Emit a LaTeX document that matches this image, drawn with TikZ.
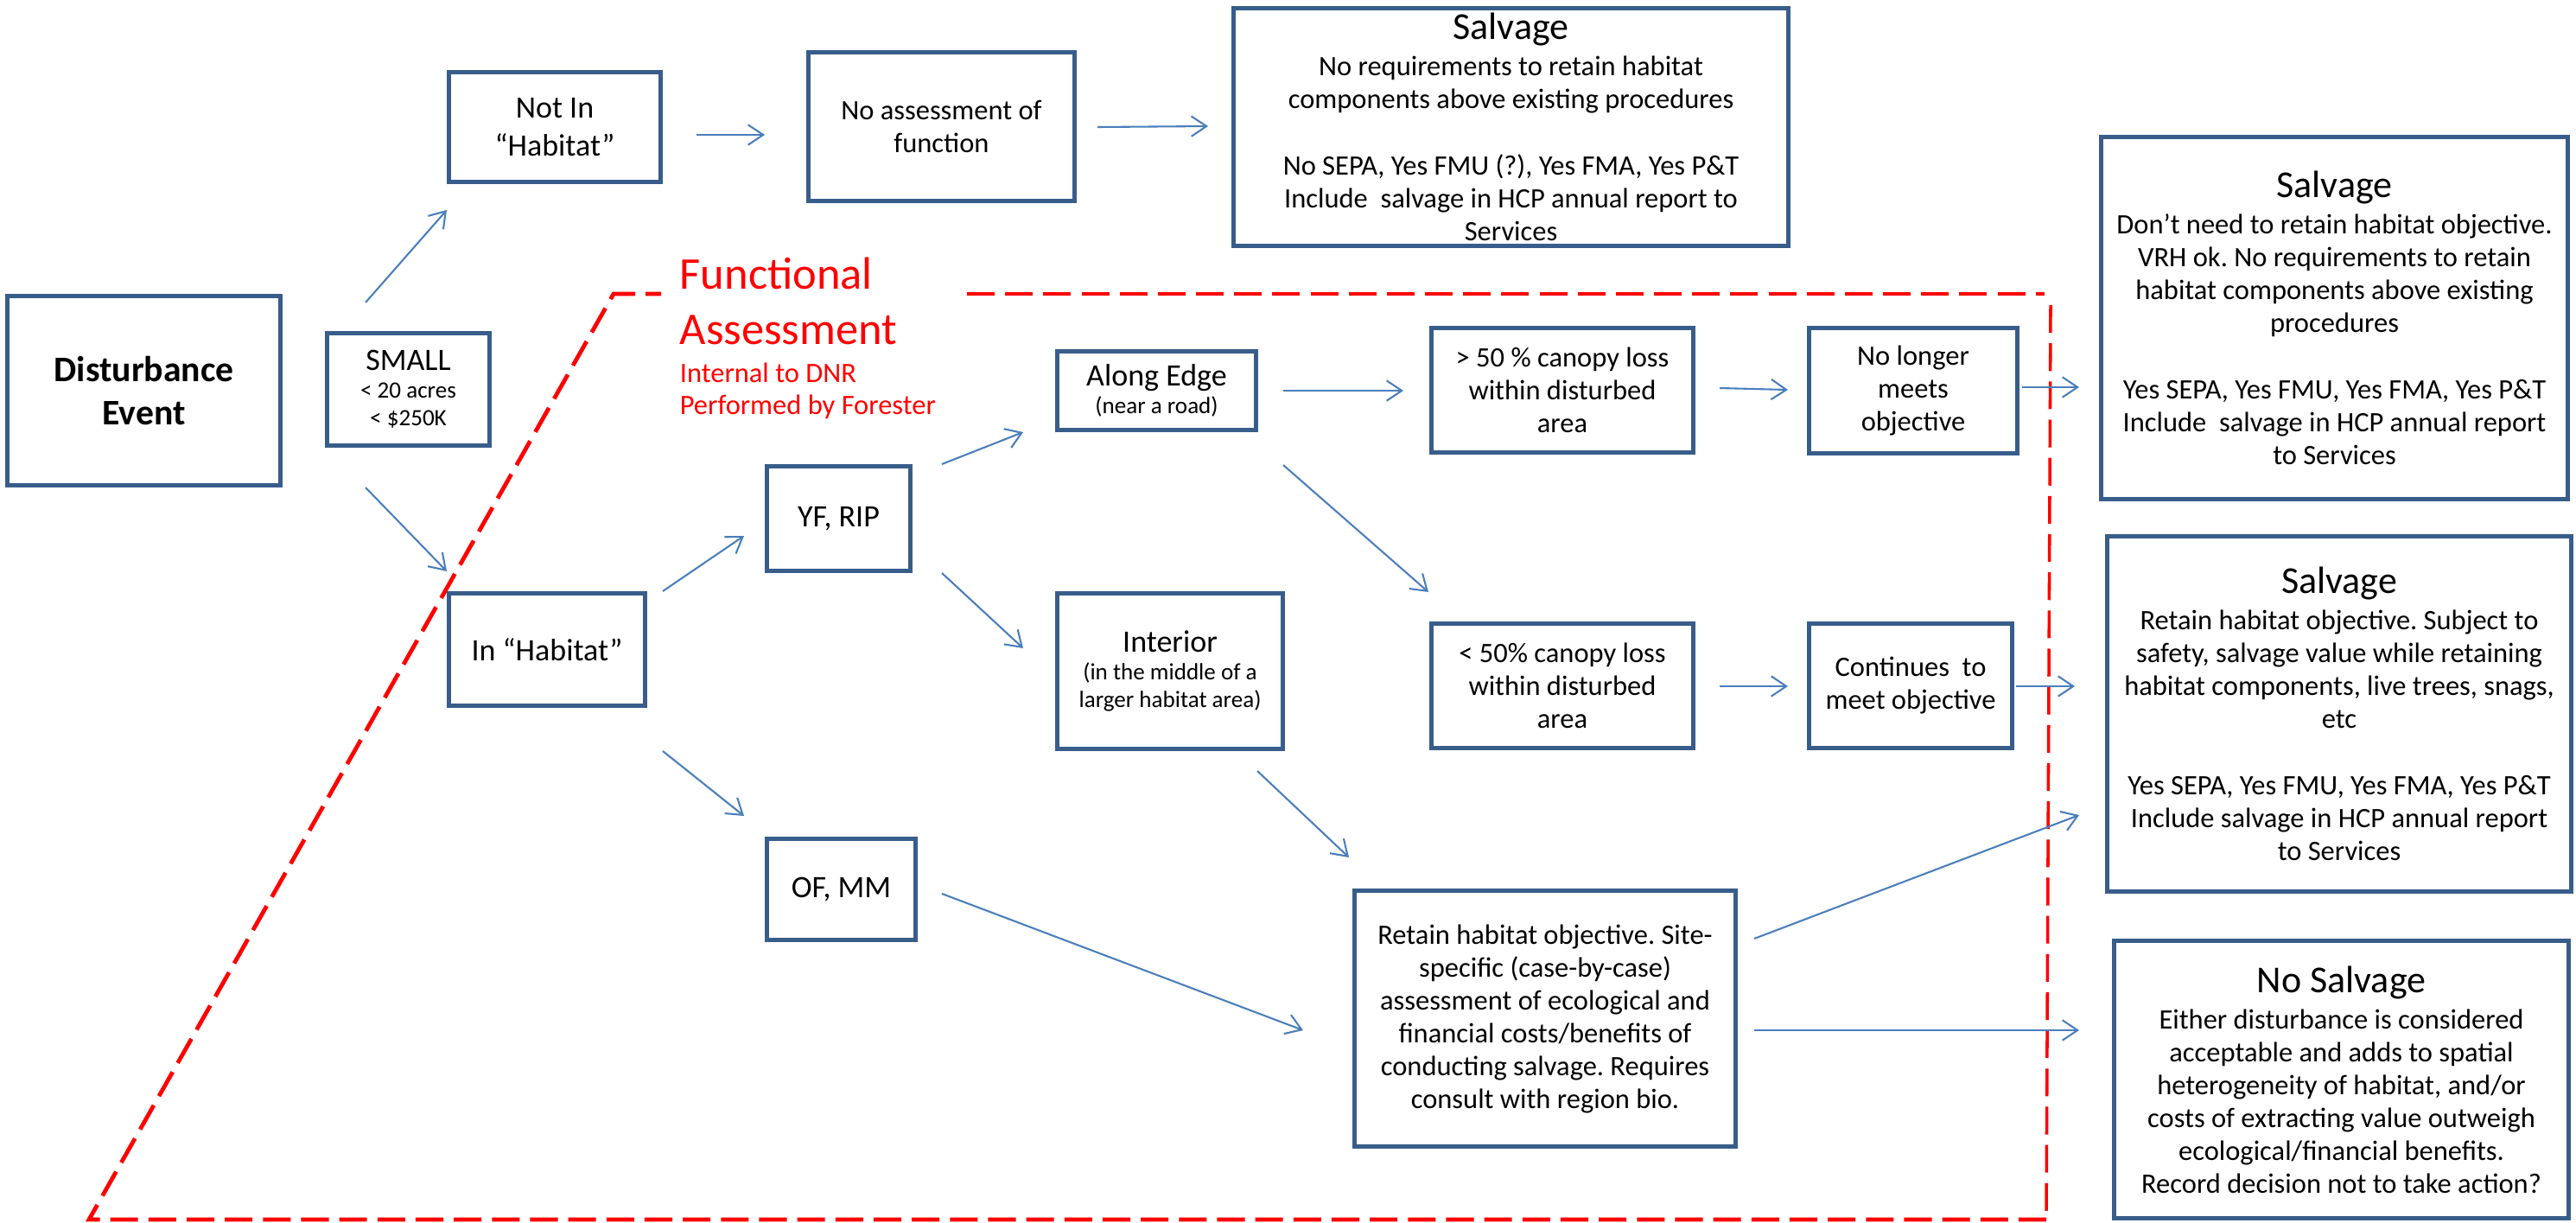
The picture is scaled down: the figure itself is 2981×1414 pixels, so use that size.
\documentclass[tikz,border=0pt]{standalone}
\usepackage{fontspec}
\setmainfont{Carlito}
\usetikzlibrary{arrows.meta}
\definecolor{boxblue}{HTML}{385D8A}
\definecolor{arrowblue}{HTML}{4A7EBB}
\definecolor{fared}{HTML}{FF0000}
\newcommand\fbody{\fontsize{7.8}{9.12}\selectfont}
\newcommand\ftitle{\fontsize{10.56}{12.9}\selectfont}
\newcommand\flab{\fontsize{8.64}{10.4}\selectfont}
\newcommand\fsml{\fontsize{6.5}{7.7}\selectfont}
\newcommand\fdist{\fontsize{10}{12.1}\selectfont\bfseries}
\newcommand\ffunc{\fontsize{12.6}{15.3}\selectfont}
\frenchspacing
\begin{document}
\begin{tikzpicture}[x=0.24pt,y=-0.24pt,
  box/.style={draw=boxblue,line width=1.15pt,fill=white,inner sep=0pt,align=center,rectangle},
  bx/.style n args={2}{minimum width=#1*0.24pt,minimum height=#2*0.24pt},
  conn/.style={draw=arrowblue,line width=0.5pt,-{Straight Barb[length=4.2pt,width=5.6pt]}},
  frame/.style={draw=fared,line width=1.15pt,dash pattern=on 7.7pt off 2.9pt},
  redtxt/.style={text=fared,inner sep=0pt,anchor=base west}]
\useasboundingbox (0,0) rectangle (2981,1414);

% dashed frame of the functional assessment
\draw[frame] (2368,1411) -- (103,1411) -- (710,340) -- (765,340);
\draw[frame] (1119,340) -- (2366,340);
\draw[frame,line width=0.85pt] (2373,353) -- (2368,1411);

\node[redtxt,font=\ffunc] (func1) at (786,334) {Functional};
\node[redtxt,font=\ffunc] (func2) at (786,398) {Assessment};
\node[redtxt,font=\fbody] (func3) at (786,442) {Internal to DNR};
\node[redtxt,font=\fbody] (func4) at (786,479) {Performed by Forester};

% boxes
\node[box,bx={316}{219},font=\fdist] (dist) at (166.5,452) {Disturbance\\Event};
\node[box,bx={188}{130},font=\fsml] (small) at (472.5,450.5) {{\flab SMALL}\\< 20 acres\\< \$250K};
\node[box,bx={245}{127},font=\flab] (notin) at (642,147) {Not In\\“Habitat”};
\node[box,bx={308}{172},font=\fbody] (noassess) at (1089.5,146.5) {No assessment of\\function};
\node[box,bx={642}{275},font=\fbody] (salv0) at (1748.5,147) {{\ftitle Salvage}\\[1pt]No requirements to retain habitat\\components above existing procedures\\[9.4pt]No SEPA, Yes FMU (?), Yes FMA, Yes P\&T\\Include\ \ salvage in HCP annual report to\\Services};
\node[box,bx={227}{130},font=\flab] (inhab) at (633,751.5) {In “Habitat”};
\node[box,bx={166}{121},font=\flab] (yf) at (970.5,600) {YF, RIP};
\node[box,bx={172}{117},font=\flab] (of) at (973.5,1029) {OF, MM};
\node[box,bx={230}{91},font=\fsml] (along) at (1338.5,452) {{\flab Along Edge}\\(near a road)};
\node[box,bx={261}{180},font=\fsml] (interior) at (1354,776.5) {{\flab Interior}\\(in the middle of a\\larger habitat area)};
\node[box,bx={303}{144},font=\fbody] (gt50) at (1808,451.5) {> 50 \% canopy loss\\within disturbed\\area};
\node[box,bx={303}{144},font=\fbody] (lt50) at (1808,793.5) {< 50\% canopy loss\\within disturbed\\area};
\node[box,bx={241}{145},font=\fbody] (nolonger) at (2214,452) {No longer\\meets\\objective};
\node[box,bx={235}{144},font=\fbody] (cont) at (2211,793.5) {Continues\ \ to\\meet objective};
\node[box,bx={441}{296},font=\fbody] (retain) at (1788,1178.5) {Retain habitat objective. Site-\\specific (case-by-case)\\assessment of ecological and\\financial costs/benefits of\\conducting salvage. Requires\\consult with region bio.};
\node[box,bx={540}{419},font=\fbody] (salv1) at (2701.5,368) {{\ftitle Salvage}\\[1pt]Don’t need to retain habitat objective.\\VRH ok. No requirements to retain\\habitat components above existing\\procedures\\[9.4pt]Yes SEPA, Yes FMU, Yes FMA, Yes P\&T\\Include\ \ salvage in HCP annual report\\to Services};
\node[box,bx={537}{411},font=\fbody] (salv2) at (2707,826) {{\ftitle Salvage}\\[1pt]Retain habitat objective. Subject to\\safety, salvage value while retaining\\habitat components, live trees, snags,\\etc\\[9.4pt]Yes SEPA, Yes FMU, Yes FMA, Yes P\&T\\Include salvage in HCP annual report\\to Services};
\node[box,bx={526}{321},font=\fbody] (nosalv) at (2709.5,1249) {{\ftitle No Salvage}\\[1pt]Either disturbance is considered\\acceptable and adds to spatial\\heterogeneity of habitat, and/or\\costs of extracting value outweigh\\ecological/financial benefits.\\Record decision not to take action?};

% connector end points
\coordinate (smallNs) at (423,350);  \coordinate (smallNe) at (517,243);
\coordinate (smallSs) at (423,564);  \coordinate (smallSe) at (517,661);
\coordinate (notinS) at (806,156);   \coordinate (notinE) at (885,156);
\coordinate (noassS) at (1270,147);  \coordinate (noassE) at (1398,146);
\coordinate (inhabNs) at (767,684);  \coordinate (inhabNe) at (861,620);
\coordinate (inhabSs) at (767,869);  \coordinate (inhabSe) at (861,944);
\coordinate (yfNs) at (1090,537);    \coordinate (yfNe) at (1184,500);
\coordinate (yfSs) at (1090,663);    \coordinate (yfSe) at (1184,750);
\coordinate (alongEs) at (1485,452); \coordinate (alongEe) at (1624,452);
\coordinate (alongSs) at (1485,538); \coordinate (alongSe) at (1653,685);
\coordinate (gtS) at (1990,449);     \coordinate (gtE) at (2069,451);
\coordinate (nolS) at (2340,448);    \coordinate (nolE) at (2406,448);
\coordinate (ltS) at (1990,794);     \coordinate (ltE) at (2069,794);
\coordinate (contS) at (2333,794);   \coordinate (contE) at (2401,794);
\coordinate (intS) at (1455,892);    \coordinate (intE) at (1561,992);
\coordinate (ofS) at (1090,1034);    \coordinate (ofE) at (1508,1192);
\coordinate (retNs) at (2030,1086);  \coordinate (retNe) at (2406,943);
\coordinate (retEs) at (2030,1192);  \coordinate (retEe) at (2406,1192);

\draw[conn] (smallNs) -- (smallNe);
\draw[conn] (smallSs) -- (smallSe);
\draw[conn] (notinS) -- (notinE);
\draw[conn] (noassS) -- (noassE);
\draw[conn] (inhabNs) -- (inhabNe);
\draw[conn] (inhabSs) -- (inhabSe);
\draw[conn] (yfNs) -- (yfNe);
\draw[conn] (yfSs) -- (yfSe);
\draw[conn] (alongEs) -- (alongEe);
\draw[conn] (alongSs) -- (alongSe);
\draw[conn] (gtS) -- (gtE);
\draw[conn] (nolS) -- (nolE);
\draw[conn] (ltS) -- (ltE);
\draw[conn] (contS) -- (contE);
\draw[conn] (intS) -- (intE);
\draw[conn] (ofS) -- (ofE);
\draw[conn] (retNs) -- (retNe);
\draw[conn] (retEs) -- (retEe);
\end{tikzpicture}
\end{document}
